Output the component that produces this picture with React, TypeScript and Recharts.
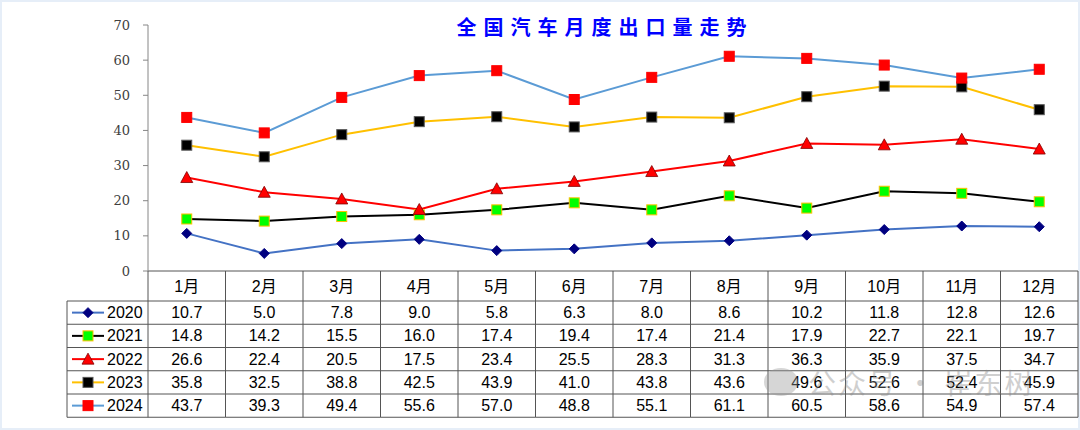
import React from 'react';
import { Line, LineChart, XAxis, YAxis } from 'recharts';

const months = ['1月', '2月', '3月', '4月', '5月', '6月', '7月', '8月', '9月', '10月', '11月', '12月'];
const years = ['2020', '2021', '2022', '2023', '2024'];
const export2020 = [10.7, 5.0, 7.8, 9.0, 5.8, 6.3, 8.0, 8.6, 10.2, 11.8, 12.8, 12.6];
const export2021 = [14.8, 14.2, 15.5, 16.0, 17.4, 19.4, 17.4, 21.4, 17.9, 22.7, 22.1, 19.7];
const export2022 = [26.6, 22.4, 20.5, 17.5, 23.4, 25.5, 28.3, 31.3, 36.3, 35.9, 37.5, 34.7];
const export2023 = [35.8, 32.5, 38.8, 42.5, 43.9, 41.0, 43.8, 43.6, 49.6, 52.6, 52.4, 45.9];
const export2024 = [43.7, 39.3, 49.4, 55.6, 57.0, 48.8, 55.1, 61.1, 60.5, 58.6, 54.9, 57.4];
const yTicks = [0, 10, 20, 30, 40, 50, 60, 70];

const seriesValues = [export2020, export2021, export2022, export2023, export2024];

// look of each year's line and marker
const styles = [
  { line: '#4472C4', shape: 'diamond', fill: '#000080', stroke: '#000080' },
  { line: '#000000', shape: 'square', fill: '#00FF00', stroke: '#FFC000' },
  { line: '#FF0000', shape: 'triangle', fill: '#FF0000', stroke: '#800000' },
  { line: '#FFC000', shape: 'square', fill: '#000000', stroke: '#595959' },
  { line: '#5B9BD5', shape: 'square', fill: '#FF0000', stroke: '#FF0000' },
];

const data = months.map((m, i) => {
  const row: Record<string, string | number> = { month: m };
  years.forEach((y, j) => {
    row[y] = seriesValues[j][i];
  });
  return row;
});

const W = 1080;
const H = 430;
const PLOT_LEFT = 148;
const PLOT_RIGHT = 1078;
const PLOT_TOP = 25;
const AXIS_Y = 271;
const HEADER_H = 30;
const ROW_H = 23.25;
const LEGEND_LEFT = 67;
const BAND = (PLOT_RIGHT - PLOT_LEFT) / months.length;
const TABLE_BOTTOM = AXIS_Y + HEADER_H + ROW_H * years.length;
const GRID = '#555';
const TABLE_FONT = '"Liberation Sans", Arial, "Noto Sans CJK SC", sans-serif';

function Marker({ shape, cx, cy, fill, stroke }: any) {
  if (shape === 'diamond') {
    const r = 5;
    return <polygon points={`${cx},${cy - r} ${cx + r},${cy} ${cx},${cy + r} ${cx - r},${cy}`} fill={fill} stroke={stroke} />;
  }
  if (shape === 'triangle') {
    return <polygon points={`${cx},${cy - 6} ${cx + 6},${cy + 5} ${cx - 6},${cy + 5}`} fill={fill} stroke={stroke} strokeWidth={0.8} />;
  }
  return <rect x={cx - 5} y={cy - 5} width={10} height={10} fill={fill} stroke={stroke} strokeWidth={1} />;
}

function ColumnTick(props: any) {
  const { x, payload } = props;
  const i = payload.index ?? props.index;
  const left = x - BAND / 2;
  const right = x + BAND / 2;
  const rowLines = years.map((_, j) => AXIS_Y + HEADER_H + ROW_H * j);
  return (
    <g fontFamily={TABLE_FONT} fontSize={16} fill="#000">
      <line x1={left} y1={AXIS_Y} x2={left} y2={TABLE_BOTTOM} stroke={GRID} />
      {i === months.length - 1 && <line x1={right} y1={AXIS_Y} x2={right} y2={TABLE_BOTTOM} stroke={GRID} />}
      {rowLines.map((ly) => (
        <line key={ly} x1={left} y1={ly} x2={right} y2={ly} stroke={GRID} />
      ))}
      <line x1={left} y1={TABLE_BOTTOM} x2={right} y2={TABLE_BOTTOM} stroke={GRID} />
      <text x={x} y={AXIS_Y + HEADER_H / 2} textAnchor="middle" dominantBaseline="central" fill="#000">
        {payload.value}
      </text>
      {seriesValues.map((vals, j) => (
        <text
          key={years[j]}
          x={x}
          y={AXIS_Y + HEADER_H + ROW_H * (j + 0.5)}
          textAnchor="middle"
          dominantBaseline="central"
          fill="#000"
        >
          {vals[i].toFixed(1)}
        </text>
      ))}
      {i === 0 && (
        <g>
          {years.map((yr, j) => {
            const top = AXIS_Y + HEADER_H + ROW_H * j;
            const cy = top + ROW_H / 2;
            const s = styles[j];
            return (
              <g key={yr}>
                <line x1={LEGEND_LEFT} y1={top} x2={left} y2={top} stroke={GRID} />
                <line x1={72} y1={cy} x2={104} y2={cy} stroke={s.line} strokeWidth={2} />
                <Marker shape={s.shape} cx={88} cy={cy} fill={s.fill} stroke={s.stroke} />
                <text x={107} y={cy} dominantBaseline="central" fill="#000">
                  {yr}
                </text>
              </g>
            );
          })}
          <line x1={LEGEND_LEFT} y1={TABLE_BOTTOM} x2={left} y2={TABLE_BOTTOM} stroke={GRID} />
          <line x1={LEGEND_LEFT} y1={AXIS_Y + HEADER_H} x2={LEGEND_LEFT} y2={TABLE_BOTTOM} stroke={GRID} />
        </g>
      )}
    </g>
  );
}

export default function App() {
  return (
    <div
      style={{
        position: 'absolute',
        left: 0,
        top: 0,
        width: W,
        height: H,
        background: '#fff',
        boxShadow: 'inset 0 0 0 2px #e6eef8',
        overflow: 'hidden',
      }}
    >
      <LineChart
        width={W}
        height={H}
        data={data}
        margin={{ top: PLOT_TOP, right: W - PLOT_RIGHT, bottom: 13, left: PLOT_LEFT - 60 }}
      >
        <XAxis
          dataKey="month"
          scale="band"
          interval={0}
          height={H - AXIS_Y - 13}
          axisLine={{ stroke: GRID }}
          tickLine={false}
          tick={<ColumnTick />}
        />
        <YAxis
          width={60}
          domain={[0, 70]}
          ticks={yTicks}
          interval={0}
          tickSize={5}
          tickMargin={13}
          axisLine={{ stroke: '#868686' }}
          tickLine={{ stroke: '#868686' }}
          tick={{ fontFamily: '"DejaVu Serif", serif', fontSize: 13, fill: '#404040' }}
        />
        {years.map((yr, j) => {
          const s = styles[j];
          return (
            <Line
              key={yr}
              dataKey={yr}
              stroke={s.line}
              strokeWidth={2}
              isAnimationActive={false}
              dot={(p: any) => (
                <Marker key={`${yr}-${p.index}`} shape={s.shape} cx={p.cx} cy={p.cy} fill={s.fill} stroke={s.stroke} />
              )}
              activeDot={false}
            />
          );
        })}
      </LineChart>
      <div
        style={{
          position: 'absolute',
          left: 0,
          width: 1210,
          top: 13,
          textAlign: 'center',
          fontFamily: '"Noto Sans CJK SC", sans-serif',
          fontWeight: 700,
          fontSize: 20,
          letterSpacing: 7,
          color: '#0000FF',
          lineHeight: '28px',
        }}
      >
        全国汽车月度出口量走势
      </div>
      <div
        style={{
          position: 'absolute',
          left: 764,
          top: 364,
          display: 'flex',
          alignItems: 'center',
          gap: 10,
          opacity: 0.4,
          color: '#8a8a8a',
          fontFamily: '"Noto Sans CJK SC", sans-serif',
          fontSize: 28,
          letterSpacing: 2,
          lineHeight: '36px',
        }}
      >
        <div style={{ width: 34, height: 28, borderRadius: '50%', background: '#9a9a9a' }} />
        <span>公众号 · 崔东树</span>
      </div>
    </div>
  );
}
